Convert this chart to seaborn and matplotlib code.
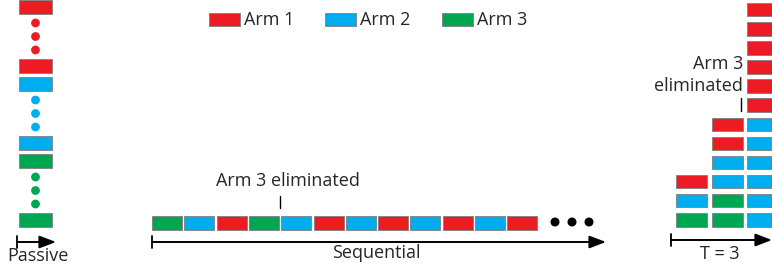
import numpy as np
import pandas as pd
import matplotlib.pyplot as plt
import seaborn as sns
from matplotlib.patches import Rectangle

# arms: 1 = red, 2 = blue, 3 = green
arm_names = ["Arm 1", "Arm 2", "Arm 3"]
arm_colors = {1: "#ED1C24", 2: "#00AEEF", 3: "#00A651"}

passive_arms = [1, 2, 3]          # each arm: box, dots, box
passive_dots = 3
sequential_arms = [3, 2, 1, 3, 2, 1, 2, 1, 2, 1, 2, 1]
seq_eliminated_after = 4          # arm 3 dropped after 4th pull
batch_columns = [                 # bottom -> top, one list per batch
    [3, 2, 1],
    [3, 3, 2, 2, 1, 1],
    [2, 2, 2, 2, 2, 2, 1, 1, 1, 1, 1, 1],
]
batch_eliminated_row = 6

sns.set_style("white")
plt.rcParams["font.family"] = ["Open Sans", "DejaVu Sans"]

W, H = 772, 271
fig = plt.figure(figsize=(W / 100, H / 100), dpi=100)
ax = fig.add_axes([0, 0, 1, 1])
ax.set_xlim(0, W)
ax.set_ylim(H, 0)
ax.axis("off")

edge = dict(edgecolor="#7f7f7f", linewidth=0.6)
bh = 13.5
fs = 13


def box(x, y, w, arm):
    ax.add_patch(Rectangle((x, y), w, bh, facecolor=arm_colors[arm], **edge))


def arrow(x0, x1, y):
    ax.plot([x0, x0], [y - 6, y + 6], color="black", lw=1.3)
    ax.annotate("", xy=(x1, y), xytext=(x0, y),
                arrowprops=dict(arrowstyle="-|>,head_length=1.0,head_width=0.38",
                                color="black", lw=1.4, shrinkA=0, shrinkB=0))


# legend
lx = [209, 325, 442]
for i, name in enumerate(arm_names):
    ax.add_patch(Rectangle((lx[i], 13), 31, 13, facecolor=arm_colors[i + 1], **edge))
    ax.text(lx[i] + 35, 20, name, fontsize=fs, va="center", ha="left")

# passive
dots = []
for g, arm in enumerate(passive_arms):
    top = g * 77
    box(19, top, 33, arm)
    box(19, top + 59, 33, arm)
    for k in range(passive_dots):
        dots.append((35.5, top + 23 + 13.5 * k, arm))
dd = pd.DataFrame(dots, columns=["x", "y", "arm"])
sns.scatterplot(data=dd, x="x", y="y", hue="arm", palette=arm_colors, s=40,
                edgecolor="none", legend=False, ax=ax)
arrow(17, 56, 242)
ax.text(38, 256, "Passive", fontsize=fs, ha="center", va="center")

# sequential
pitch = 32.3
for i, arm in enumerate(sequential_arms):
    box(152 + i * pitch, 216, 30, arm)
xe = 152 + seq_eliminated_after * pitch - 1
ax.plot([xe, xe], [196, 208], color="black", lw=1)
ax.text(xe + 8, 181, "Arm 3 eliminated", fontsize=fs, ha="center", va="center")
ell = pd.DataFrame({"x": [555, 572, 589], "y": [222, 222, 222]})
sns.scatterplot(data=ell, x="x", y="y", color="black", s=42, edgecolor="none",
                legend=False, ax=ax)
arrow(152, 606, 242)
ax.text(376, 253, "Sequential", fontsize=fs, ha="center", va="center")

# batch, T = 3
cx = [676, 712, 747]
for c, col in enumerate(batch_columns):
    for r, arm in enumerate(col):
        box(cx[c], 213 - r * 19.1, 31, arm)
ye = 213 - batch_eliminated_row * 19.1
ax.plot([741, 741], [ye + 0, ye + 13], color="black", lw=1)
ax.text(743, 64, "Arm 3", fontsize=fs, ha="right", va="center")
ax.text(743, 86, "eliminated", fontsize=fs, ha="right", va="center")
arrow(671, 772, 240)
ax.text(720, 254, "T = 3", fontsize=fs, ha="center", va="center")

fig.savefig("out.png", dpi=100)
